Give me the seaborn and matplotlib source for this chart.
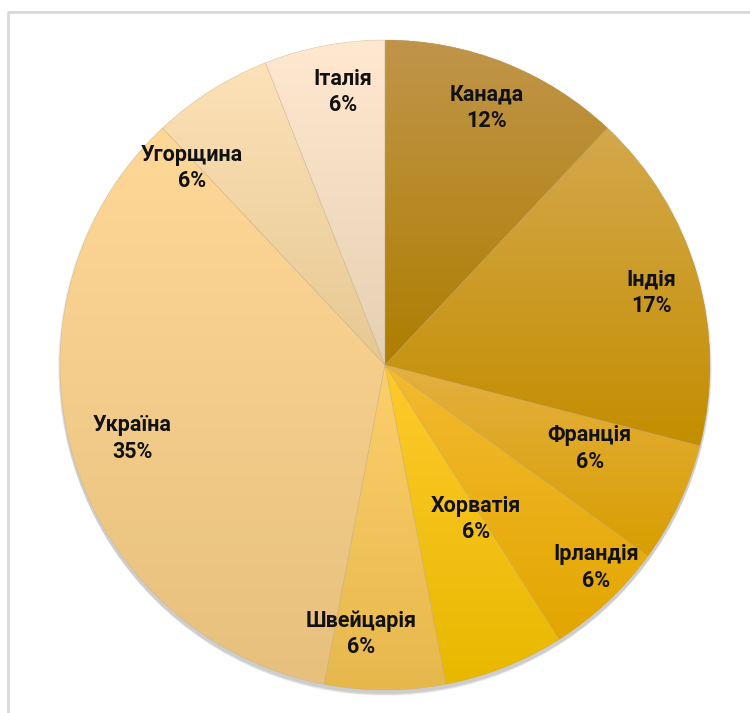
import numpy as np
import matplotlib
matplotlib.use("Agg")
import matplotlib.pyplot as plt
from matplotlib.lines import Line2D
from matplotlib.patches import Circle
import seaborn as sns

# ---- data ----
countries = ["Канада", "Індія", "Франція", "Ірландія", "Хорватія",
             "Швейцарія", "Україна", "Угорщина", "Італія"]
shares = [12, 17, 6, 6, 6, 6, 35, 6, 6]

# ---- style ----
top_colors = ["#C0954A", "#D4A84C", "#E4B040", "#F4BA30", "#FFCA2C",
              "#FCCF6C", "#FFD898", "#FDE2B8", "#FFE8D0"]
bottom_colors = ["#AE7E00", "#C48E00", "#D89E00", "#E2A600", "#E8B800",
                 "#E6B84C", "#E6C07C", "#E6C892", "#E6D0B2"]
label_r = [0.85, 0.85, 0.68, 0.90, 0.55, 0.83, 0.81, 0.85, 0.85]
label_dang = [0, -1, 3, 3, 9, -5, 0, 12, -2]

sns.set_theme(style="white")
plt.rcParams["font.family"] = ["Roboto", "DejaVu Sans"]

W, H = 750, 713
fig = plt.figure(figsize=(W / 100, H / 100), dpi=100)
fig.patch.set_facecolor("white")

cx, cy, R = 385, 365, 325
ax = fig.add_axes([(cx - R) / W, (H - cy - R) / H, 2 * R / W, 2 * R / H])
ax.set_xlim(-1, 1)
ax.set_ylim(-1, 1)
ax.axis("off")

# chart frame
fig.add_artist(Line2D([8 / W, 8 / W, 1.01], [-0.01, 1 - 12 / H, 1 - 12 / H],
                      transform=fig.transFigure, color="#d9d9d9", lw=2))

# soft shadow
for k in range(4):
    ax.add_patch(Circle((0, -0.006 - 0.004 * k), 1.0 + 0.002 * (3 - k),
                        facecolor="black", alpha=0.05, edgecolor="none",
                        zorder=0, clip_on=False))

wedges, _ = ax.pie(shares, startangle=90, counterclock=False, radius=1,
                   wedgeprops=dict(edgecolor="none", linewidth=0))
ax.set_xlim(-1, 1)
ax.set_ylim(-1, 1)

for w, tc, bc in zip(wedges, top_colors, bottom_colors):
    w.set_facecolor(bc)
    w.set_zorder(1)
    verts = w.get_path().vertices
    x0, x1 = verts[:, 0].min(), verts[:, 0].max()
    y0, y1 = verts[:, 1].min(), verts[:, 1].max()
    pal = sns.blend_palette([tc, bc], n_colors=128)
    img = np.array(pal).reshape(128, 1, 3)
    im = ax.imshow(img, extent=[x0, x1, y0, y1], origin="upper",
                   aspect="auto", interpolation="bilinear", zorder=2)
    im.set_clip_path(w)

# separators
ax.pie(shares, startangle=90, counterclock=False, radius=1,
       wedgeprops=dict(facecolor="none", edgecolor=(0.75, 0.68, 0.55, 0.35),
                       linewidth=0.5, zorder=3))
ax.set_xlim(-1, 1)
ax.set_ylim(-1, 1)

# labels
total = sum(shares)
start = 90.0
for name, v, lr, da in zip(countries, shares, label_r, label_dang):
    span = 360.0 * v / total
    mid = np.deg2rad(start - span / 2 + da)
    start -= span
    ax.text(lr * np.cos(mid), lr * np.sin(mid), f"{name}\n{v}%",
            ha="center", va="center", fontsize=15.5, fontweight="bold",
            color="#111111", linespacing=1.25, zorder=5)

fig.savefig("out.png", dpi=100)
